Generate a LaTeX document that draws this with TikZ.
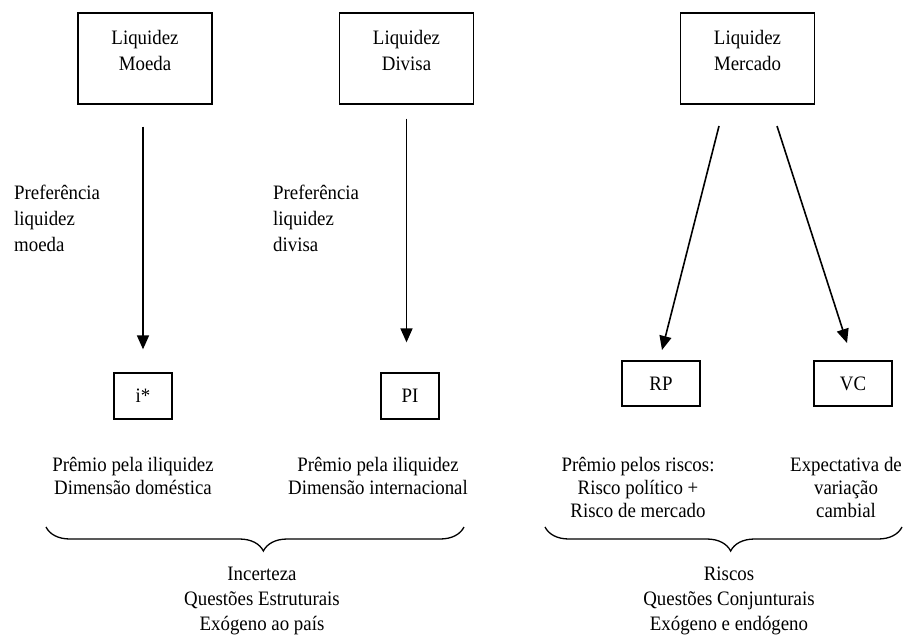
\documentclass[tikz,border=0pt]{standalone}
\usepackage{fontspec}
\setmainfont{Liberation Serif}
\newfontfamily\tnr[FakeStretch=0.92]{Liberation Serif}
\usetikzlibrary{arrows.meta,decorations.pathreplacing}
\begin{document}
\begin{tikzpicture}[x=1pt,y=-1pt,
 bigbox/.style={draw,line width=1.3pt,minimum width=134pt,minimum height=91pt,inner sep=0pt,align=center,font=\tnr\fontsize{20.5}{26}\selectfont},
 smallbox/.style={draw,line width=1.3pt,minimum height=45pt,inner sep=0pt,font=\tnr\fontsize{20.5}{23}\selectfont},
 txt/.style={align=center,inner sep=0pt,anchor=north,font=\tnr\fontsize{20.5}{23}\selectfont},
 btxt/.style={align=center,inner sep=0pt,anchor=north,font=\tnr\fontsize{20.5}{25}\selectfont},
 ltxt/.style={align=left,inner sep=0pt,anchor=north west,font=\tnr\fontsize{20.5}{26}\selectfont},
 arr/.style={line width=1.6pt,-{Triangle[length=14pt,width=12pt]}},
 brc/.style={line width=1.3pt,decorate,decoration={brace,mirror,amplitude=24pt,aspect=0.52}}]
\useasboundingbox (0,0) rectangle (904,634);

% top boxes
\node[bigbox] (moeda) at (145,58.5) {Liquidez\\Moeda\rule[-16pt]{0pt}{0pt}};
\node[bigbox] (divisa) at (406.5,58.5) {Liquidez\\Divisa\rule[-16pt]{0pt}{0pt}};
\node[bigbox] (merc) at (747.5,58.5) {Liquidez\\Mercado\rule[-16pt]{0pt}{0pt}};

% side labels
\node[ltxt] (prefm) at (14,180.8) {\strut Preferência\\liquidez\\moeda};
\node[ltxt] (prefd) at (273,180.8) {\strut Preferência\\liquidez\\divisa};

% small boxes
\node[smallbox,minimum width=58pt,minimum height=46pt] (istar) at (143,396) {i*};
\node[smallbox,minimum width=58pt,minimum height=46pt] (pi) at (410,396) {PI};
\node[smallbox,minimum width=78pt] (rp) at (661,383.5) {RP};
\node[smallbox,minimum width=78pt] (vc) at (853,383.5) {VC};

% arrows
\draw[arr,shorten <=22pt,shorten >=23pt] (istar.north |- moeda.south) -- (istar.north);
\draw[arr,shorten <=14pt,shorten >=30pt] (divisa.south) -- (divisa.south |- pi.north);
\coordinate (mL1) at (719,126);
\coordinate (mL2) at (662,350);
\coordinate (mR1) at (777,126);
\coordinate (mR2) at (847,343);
\draw[arr] (mL1) -- (mL2);
\draw[arr] (mR1) -- (mR2);

% lower texts
\node[txt] (t1) at (133,454.9) {\strut Prêmio pela iliquidez\\Dimensão doméstica};
\node[txt] (t2) at (378,454.9) {\strut Prêmio pela iliquidez\\Dimensão internacional};
\node[txt] (t3) at (638,454.9) {\strut Prêmio pelos riscos:\\Risco político +\\Risco de mercado};
\node[txt] (t4) at (846,454.9) {\strut Expectativa de\\variação\\cambial};

% braces
\coordinate (bL1) at (46,527);
\coordinate (bL2) at (464,527);
\coordinate (bR1) at (545,527);
\coordinate (bR2) at (902,527);
\draw[brc] (bL1) -- (bL2);
\draw[brc] (bR1) -- (bR2);

% bottom texts
\node[btxt] (b1) at (262,562.5) {\strut Incerteza\\Questões Estruturais\\Exógeno ao país};
\node[btxt] (b2) at (729,562.5) {\strut Riscos\\Questões Conjunturais\\Exógeno e endógeno};
\end{tikzpicture}
\end{document}
